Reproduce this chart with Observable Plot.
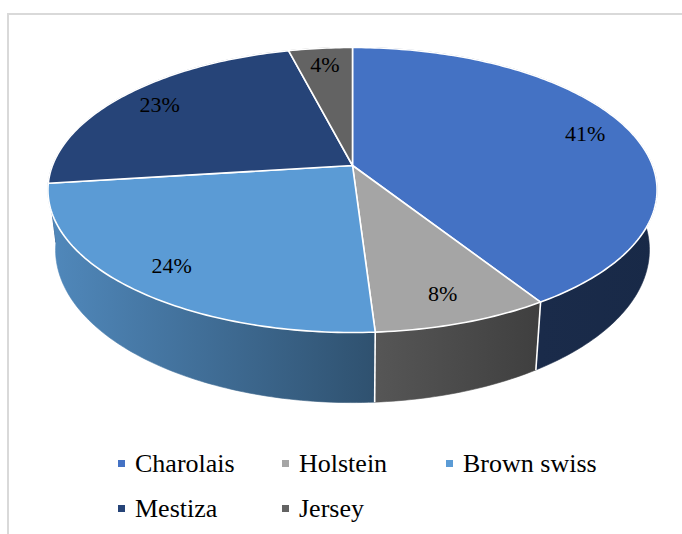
<!DOCTYPE html>
<html><head><meta charset="utf-8">
<script src="https://cdn.jsdelivr.net/npm/d3@7"></script>
<script src="https://cdn.jsdelivr.net/npm/@observablehq/plot@0.6"></script>
<style>
html,body{margin:0;padding:0;background:#fff;overflow:hidden;width:682px;height:534px}
#frame{position:absolute;left:7px;top:13px;width:800px;height:700px;border-left:2px solid #d9d9d9;border-top:2px solid #d9d9d9;pointer-events:none}
#chart{position:absolute;left:0;top:0}
.legend{position:absolute;left:118px;top:441px;display:grid;grid-template-columns:164px 164px 164px;grid-auto-rows:45px;font-family:'Liberation Serif',serif;font-size:26px;color:#000}
.item{display:flex;align-items:center;white-space:nowrap}
.sw{width:7px;height:7px;margin-right:10px;flex:none}
</style></head><body>
<div id="chart"></div><div class="legend" id="legend"></div><div id="frame"></div>
<script>
// ---- data ----
const categories = ["Charolais", "Holstein", "Brown swiss", "Mestiza", "Jersey"];
const shares = [41, 8, 24, 23, 4];
const labels = ["41%", "8%", "24%", "23%", "4%"];
const palette = ["#4472C4", "#A5A5A5", "#5B9BD5", "#264478", "#636363"];

// ---- 3D projection of the pie disc ----
const W = 682, H = 441;
const CX = 352, CY = 165, RX = 300, RY = 138.3, PERSP = 0.172, DEPTH = 58, BOTTOM_SCALE = 0.975;
function project(alpha, r, bottom) {
  const u = r * Math.sin(alpha), v = -r * Math.cos(alpha);
  const w = 1 - PERSP * v;
  let X = RX * u / w, Y = RY * v / w;
  if (bottom) { X *= BOTTOM_SCALE; Y += DEPTH / w; }
  return [CX + X, CY + Y];
}
function steps(a0, a1) {
  const n = Math.max(2, Math.ceil((a1 - a0) / (2 * Math.PI) * 360));
  return d3.range(n + 1).map(k => a0 + (a1 - a0) * k / n);
}

const rows = categories.map((c, i) => ({category: c, share: shares[i], label: labels[i], idx: i}));
const arcs = d3.pie().sort(null).value(d => d.share).startAngle(0).endAngle(2 * Math.PI)(rows);

// top faces
const topPts = [];
arcs.forEach(a => {
  const c = a.data.category;
  const [x0, y0] = project(0, 0, false);
  topPts.push({category: c, x: x0, y: y0});
  for (const t of steps(a.startAngle, a.endAngle)) {
    const [x, y] = project(t, 1, false);
    topPts.push({category: c, x, y});
  }
  topPts.push({category: c, x: x0, y: y0});
});

// side walls (painter's order: far first)
const sides = arcs.map(a => {
  const pts = [];
  const ts = steps(a.startAngle, a.endAngle);
  for (const t of ts) { const [x, y] = project(t, 1, false); pts.push({x, y}); }
  for (const t of ts.slice().reverse()) { const [x, y] = project(t, 1, true); pts.push({x, y}); }
  pts.push(pts[0]);
  const mid = (a.startAngle + a.endAngle) / 2;
  return {idx: a.data.idx, pts, depth: -Math.cos(mid)};
}).sort((p, q) => p.depth - q.depth);

// visible slice edges on the wall
const edges = arcs.map(a => a.endAngle).filter(t => -Math.cos(t) > PERSP).map(t => {
  const [x1, y1] = project(t, 1, false);
  const [x2, y2] = project(t, 1, true);
  return {x1, y1, x2, y2};
});

// labels
const labelPts = arcs.map(a => {
  const mid = (a.startAngle + a.endAngle) / 2;
  const [x, y] = project(mid, 0.84, false);
  return {x, y, label: a.data.label};
});

const chart = Plot.plot({
  width: W, height: H, margin: 0,
  x: {domain: [0, W], range: [0, W], axis: null},
  y: {domain: [0, H], range: [0, H], axis: null},
  color: {domain: categories, range: palette},
  style: {background: "transparent", overflow: "visible"},
  marks: [
    ...sides.map(s => Plot.line(s.pts, {x: "x", y: "y", fill: `url(#side-${s.idx})`, stroke: `url(#side-${s.idx})`, strokeWidth: 0.6})),
    Plot.link(edges, {x1: "x1", y1: "y1", x2: "x2", y2: "y2", stroke: "white", strokeWidth: 1.6}),
    Plot.line(topPts, {x: "x", y: "y", z: "category", fill: "category", stroke: "white", strokeWidth: 1.6, strokeLinejoin: "round"}),
    Plot.text(labelPts, {x: "x", y: "y", text: "label", fontSize: 22, fontFamily: "Liberation Serif", fill: "black"})
  ]
});
document.getElementById("chart").appendChild(chart);

// shading gradients for the walls
const light = [[50, 0.88], [375, 0.52], [540, 0.38], [660, 0.36]];
const defs = d3.select(chart).insert("defs", ":first-child");
palette.forEach((col, i) => {
  const g = defs.append("linearGradient").attr("id", `side-${i}`)
    .attr("gradientUnits", "userSpaceOnUse").attr("x1", light[0][0]).attr("x2", light[light.length - 1][0]).attr("y1", 0).attr("y2", 0);
  const base = d3.rgb(col);
  light.forEach(([px, f]) => {
    g.append("stop").attr("offset", (px - light[0][0]) / (light[light.length - 1][0] - light[0][0]))
      .attr("stop-color", d3.rgb(base.r * f, base.g * f, base.b * f).formatHex());
  });
});

// legend
const legend = d3.select("#legend");
categories.forEach((c, i) => {
  const it = legend.append("div").attr("class", "item");
  it.append("span").attr("class", "sw").style("background", palette[i]);
  it.append("span").text(c);
});
</script>
</body></html>
